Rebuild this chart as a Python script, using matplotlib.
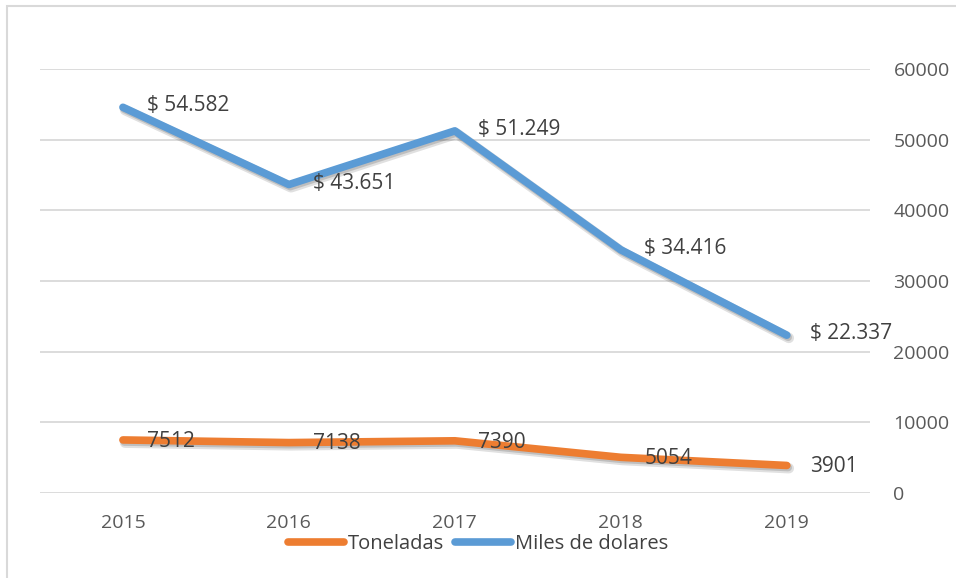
import matplotlib.pyplot as plt
import matplotlib.patheffects as pe
from matplotlib.lines import Line2D
from matplotlib.patches import Rectangle

years = ['2015', '2016', '2017', '2018', '2019']
toneladas = [7512, 7138, 7390, 5054, 3901]
miles_dolares = [54582, 43651, 51249, 34416, 22337]

plt.rcParams['font.family'] = ['Open Sans', 'DejaVu Sans']
text_color = '#595959'
label_color = '#404040'
orange = '#ED7D31'
blue = '#5B9BD5'

fig = plt.figure(figsize=(9.56, 5.78), dpi=100)
ax = fig.add_axes([0.0418, 0.147, 0.868, 0.7336])

# soft drop shadow like the office chart
shadow = [pe.SimpleLineShadow(offset=(1.5, -2.0), shadow_color='#000000', alpha=0.12, linewidth=7.5),
          pe.SimpleLineShadow(offset=(1.0, -1.5), shadow_color='#000000', alpha=0.15),
          pe.Normal()]
x = list(range(len(years)))
ax.plot(x, toneladas, color=orange, lw=5.5, solid_capstyle='round',
        solid_joinstyle='round', path_effects=shadow, zorder=3)
ax.plot(x, miles_dolares, color=blue, lw=5.5, solid_capstyle='round',
        solid_joinstyle='round', path_effects=shadow, zorder=3)

for xi, v in zip(x, miles_dolares):
    s = '$ ' + f'{v:,}'.replace(',', '.')
    ax.annotate(s, (xi, v), xytext=(17, 1), textcoords='offset points',
                ha='left', va='center', fontsize=15, color=label_color, zorder=4)
for xi, v in zip(x, toneladas):
    ax.annotate(str(v), (xi, v), xytext=(17, -1), textcoords='offset points',
                ha='left', va='center', fontsize=15, color=label_color, zorder=4)

ax.set_xlim(-0.5, 4.5)
ax.set_ylim(0, 60000)
ax.set_yticks(range(0, 60001, 10000))
ax.set_xticks(x)
ax.set_xticklabels(years)
ax.yaxis.tick_right()
ax.grid(axis='y', color='#D9D9D9', lw=1.3)
ax.set_axisbelow(True)
for sp in ax.spines.values():
    sp.set_visible(False)
ax.tick_params(axis='y', length=0, pad=17, labelsize=14, labelcolor=text_color)
ax.tick_params(axis='x', length=0, pad=15, labelsize=14, labelcolor=text_color)

handles = [Line2D([], [], color=orange, lw=5.5, solid_capstyle='round'),
           Line2D([], [], color=blue, lw=5.5, solid_capstyle='round')]
fig.legend(handles=handles, labels=['Toneladas', 'Miles de dolares'], loc='center',
           bbox_to_anchor=(0.5, 0.059), ncol=2, frameon=False, fontsize=14.5,
           handlelength=2.8, handletextpad=0.2, columnspacing=0.5,
           labelcolor=label_color)

fig.patches.append(Rectangle((7 / 956, -0.02), 1.0, 1 - 6 / 578 + 0.02,
                             transform=fig.transFigure, fill=False,
                             edgecolor='#D9D9D9', lw=1.5))

fig.savefig('out.png', dpi=100)
